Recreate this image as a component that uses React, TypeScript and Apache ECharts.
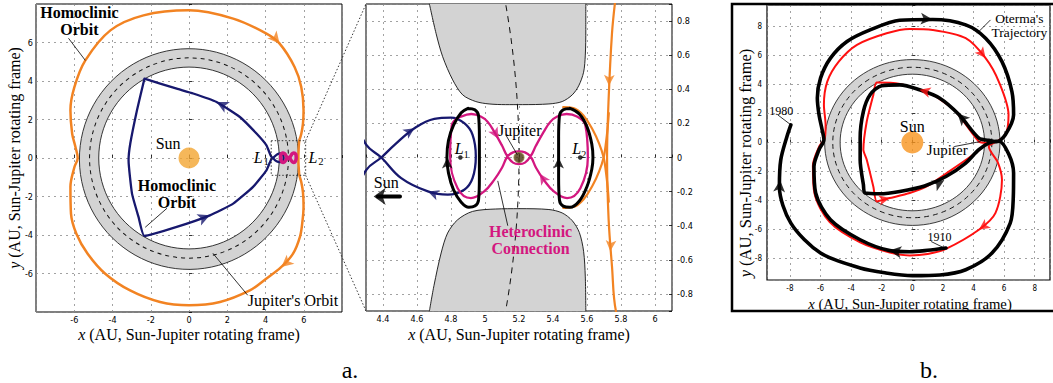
import React, { useEffect, useRef } from "react";
import * as echarts from "echarts";

// ---------------- axes ----------------
const p1Range = [-8, 8];
const p1Ticks = [-6, -4, -2, 0, 2, 4, 6];
const zoomX = [4.3, 6.1];
const zoomY = [-0.9, 0.9];
const p2XTicks = [4.4, 4.6, 4.8, 5, 5.2, 5.4, 5.6, 5.8, 6];
const p2YTicks = [-0.8, -0.6, -0.4, -0.2, 0, 0.2, 0.4, 0.6, 0.8];
const p3XRange = [-9.5, 9];
const p3YRange = [-9.5, 9.5];
const p3Ticks = [-8, -6, -4, -2, 0, 2, 4, 6, 8];

// ---------------- bodies ----------------
const sunPos = [[0, 0]];
const jupiterPos = [[5.2, 0]];
const lagrangePts = [[4.855, 0], [5.56, 0]];
const forbiddenRing = [[0, 0, 4.72, 5.73]]; // cx, cy, inner r, outer r
const jupiterOrbit = [[0, 0, 5.2]];

// ---------------- panel a curves ----------------
const orangeHomoclinic = [
  [5.766, 0.92], [5.747, 0.728], [5.727, 0.338], [5.718, 0], [5.727, -0.36], [5.747, -0.638], [5.77, -0.9],
  [5.87, -1.25], [5.96, -1.8], [5.99, -2.5], [5.93, -3.3], [5.8, -4.1], [5.44, -4.97], [4.83, -5.66], [4.0, -6.3],
  [3.18, -6.88], [1.62, -7.48], [0, -7.65], [-1.51, -7.48], [-3.08, -6.88], [-4.38, -6.01], [-5.3, -4.97],
  [-5.89, -3.93], [-6.17, -2.89], [-6.2, -1.5], [-5.99, -0.47], [-5.82, 0], [-5.94, 0.58], [-6.11, 1.27],
  [-6.2, 2.48], [-5.99, 3.69], [-5.42, 5.07], [-4.11, 6.63], [-2.38, 7.41], [0, 7.67], [2.31, 7.24],
  [4.05, 6.46], [4.74, 5.94], [5.52, 4.73], [5.87, 3.69], [5.99, 2.48], [5.96, 1.8], [5.87, 1.25], [5.766, 0.92],
];
const orangeL2Upper = [
  [5.46, 0.295], [5.52, 0.29], [5.58, 0.245], [5.635, 0.16], [5.672, 0.08], [5.698, 0], [5.712, -0.09], [5.722, -0.18], [5.728, -0.26],
];
const orangeL2Lower = [
  [5.728, 0.26], [5.722, 0.18], [5.712, 0.09], [5.698, 0], [5.672, -0.08], [5.635, -0.16], [5.58, -0.245], [5.52, -0.29], [5.46, -0.295],
];
const navyHomoclinic = [
  [-2.33, 4.12], [-2.72, 2.48], [-3.07, 0.75], [-3.16, -0.12], [-2.98, -1.85], [-2.64, -3.06], [-2.33, -4.05],
  [-0.64, -3.58], [1.09, -2.98], [2.31, -2.37], [3.35, -1.5], [4.05, -0.64], [4.22, -0.25], [4.302, -0.072],
  [4.39, 0.0], [4.468, 0.074], [4.585, 0.172], [4.702, 0.227], [4.8, 0.234], [4.878, 0.201], [4.927, 0.133],
  [4.946, 0.006], [4.927, -0.121], [4.878, -0.189], [4.781, -0.218], [4.664, -0.199], [4.507, -0.121],
  [4.39, 0.0], [4.302, 0.074], [4.22, 0.25], [4.05, 0.66], [3.53, 1.27], [2.66, 2.13], [1.44, 2.91],
  [0.22, 3.35], [-0.64, 3.6], [-2.33, 4.12],
];
const magentaHeteroclinic = [
  [4.859, 0.24], [4.92, 0.255], [4.975, 0.24], [5.015, 0.21], [5.054, 0.152], [5.1, 0.07], [5.132, 0.006],
  [5.165, -0.03], [5.2, -0.038], [5.235, -0.03], [5.268, 0.006], [5.3, 0.07], [5.346, 0.152], [5.385, 0.21],
  [5.425, 0.24], [5.48, 0.255], [5.541, 0.24], [5.59, 0.191], [5.605, 0.0], [5.561, -0.18], [5.483, -0.238],
  [5.405, -0.199], [5.346, -0.131], [5.3, -0.06], [5.268, 0.006], [5.235, 0.03], [5.2, 0.036], [5.165, 0.03],
  [5.132, 0.006], [5.1, -0.06], [5.054, -0.131], [4.995, -0.199], [4.917, -0.238], [4.839, -0.18],
  [4.795, 0.006], [4.805, 0.191], [4.859, 0.24],
];
const lyapunovL1 = [
  [4.9, 0.288], [4.94, 0.28], [4.962, 0.245], [4.967, 0.12], [4.967, -0.12], [4.962, -0.25], [4.94, -0.285],
  [4.905, -0.292], [4.86, -0.262], [4.815, -0.19], [4.785, -0.09], [4.776, 0.0], [4.785, 0.1], [4.815, 0.19],
  [4.86, 0.262], [4.9, 0.288],
];
const lyapunovL2 = [
  [5.5, 0.288], [5.46, 0.28], [5.438, 0.245], [5.433, 0.12], [5.433, -0.12], [5.438, -0.25], [5.46, -0.285],
  [5.5, -0.292], [5.555, -0.255], [5.6, -0.17], [5.628, -0.07], [5.635, 0.0], [5.628, 0.08], [5.6, 0.18],
  [5.555, 0.255], [5.5, 0.288],
];
const forbiddenTop = [
  [4.673, 0.9], [4.712, 0.728], [4.751, 0.591], [4.81, 0.455], [4.869, 0.367], [4.946, 0.328], [5.024, 0.314],
  [5.12, 0.31], [5.22, 0.31], [5.376, 0.314], [5.454, 0.328], [5.513, 0.367], [5.551, 0.42], [5.58, 0.5],
  [5.59, 0.6], [5.593, 0.75], [5.593, 0.9],
];
const forbiddenBottom = [
  [4.673, -0.9], [4.7, -0.75], [4.742, -0.56], [4.78, -0.443], [4.839, -0.365], [4.927, -0.316], [5.063, -0.302],
  [5.2, -0.3], [5.376, -0.305], [5.454, -0.325], [5.513, -0.37], [5.555, -0.44], [5.58, -0.55], [5.59, -0.7],
  [5.593, -0.9],
];
const sunDirection = [[4.5, -0.228], [4.37, -0.228]];

// ---------------- panel b curves ----------------
const redChainOuter = [
  [5.21, -0.1], [5.0, -0.28], [5.6, -1.4], [5.86, -2.58], [5.43, -4.88], [4.35, -6.03], [2.2, -7.35], [1.0, -7.7],
  [-0.17, -7.8], [-1.47, -7.6], [-3.41, -6.9], [-5.4, -5.5], [-6.4, -3.5], [-6.5, -1.6], [-6.1, -0.3],
  [-5.72, 0.3], [-5.67, 1.22], [-5.78, 2.6], [-5.56, 4.21], [-4.81, 5.59], [-3.62, 6.75], [-1.68, 7.55],
  [-0.17, 7.85], [1.33, 7.78], [3.49, 7.21], [4.79, 5.83], [5.65, 4.21], [6.29, 1.91], [6.08, 0.53], [5.21, -0.1],
];
const redChainInner = [
  [4.89, -0.04], [4.35, 0.07], [2.85, 2.14], [1.5, 3.2], [0.47, 3.64], [-0.8, 4.05], [-2.33, 4.14],
  [-2.55, 3.29], [-2.98, 1.45], [-3.2, -0.5], [-2.98, -1.19], [-2.55, -3.04], [-2.33, -4.07], [-1.47, -3.84],
  [-0.17, -3.49], [1.0, -3.0], [2.41, -2.0], [4.14, -0.73], [4.89, -0.04],
];
const otermaTrajectory = [
  [2.2, -7.29], [1.0, -7.45], [-0.17, -7.55], [-1.47, -7.47], [-3.41, -6.72], [-5.35, -5.34], [-6.32, -3.49],
  [-6.43, -1.66], [-6.1, -0.5], [-5.78, 0.19], [-5.9, 0.9], [-6.1, 1.91], [-6.21, 3.07], [-6.0, 4.45],
  [-5.35, 5.83], [-4.27, 6.98], [-2.76, 7.78], [-0.83, 8.45], [1.33, 8.5], [3.49, 8.13], [4.79, 7.21],
  [5.86, 5.59], [6.51, 3.52], [6.62, 1.91], [6.08, 0.53], [5.5, 0.05], [5.0, 0.15], [4.35, 0.3], [3.06, 1.91],
  [1.77, 3.07], [0.47, 3.64], [-0.82, 3.98], [-2.0, 3.92], [-2.76, 3.3], [-3.2, 2.14], [-3.41, 0.3],
  [-3.41, -1.19], [-3.2, -2.9], [-3.09, -3.49], [-2.12, -3.54], [-0.82, -3.38], [0.8, -3.0], [2.2, -2.35],
  [3.49, -1.42], [4.35, -0.5], [5.0, -0.05], [5.65, 0.1], [6.3, -0.8], [6.62, -2.11], [6.6, -3.8], [6.4, -5.57],
  [5.21, -7.64], [3.49, -8.79], [1.8, -9.15], [0.0, -9.2], [-1.8, -9.0], [-3.41, -8.67], [-6.0, -7.64],
  [-7.94, -5.57], [-8.69, -3.04], [-8.6, -1.2], [-8.2, 0.4], [-7.94, 1.22],
];

// arrow heads: [x, y, heading in degrees]
const p1OrangeArrows = [[4.74, 5.94, -50], [4.83, -5.66, -140]];
const p1NavyArrows = [[1.44, 2.91, 153], [1.09, -2.98, 22]];
const p2NavyArrows = [[4.585, 0.172, 33], [4.664, -0.199, 160]];
const p2MagentaArrows = [[5.078, 0.11, -61], [5.322, -0.095, 123]];
const p2BlackArrows = [[4.778, 0.0, 90], [5.433, 0.0, 90]];
const p2OrangeArrows = [[5.729, 0.42, -92], [5.737, -0.55, -94]];
const p2SunArrow = [[4.345, -0.228, 180]];
const p3BlackArrows = [[1.33, 8.5, -4], [2.95, 2.0, 135], [2.09, -2.6, 29], [-1.5, -7.47, 172], [-8.64, -2.6, 85]];
const p3RedArrows = [[4.79, 5.83, -52], [4.35, -6.03, -145], [0.47, 3.64, 165], [-1.47, -3.84, 12]];

const serif = "'Liberation Serif', 'Times New Roman', serif";
const tickFont = "'Liberation Sans Narrow', 'DejaVu Sans Condensed', 'Liberation Sans', sans-serif";

const ORANGE = "#F28322";
const NAVY = "#17186E";
const MAGENTA = "#D3177F";
const RED = "#FF1010";

function fmtTicks(ticks: number[]) {
  return (v: number) => (ticks.some((t) => Math.abs(t - v) < 1e-6) ? String(Math.round(v * 10) / 10) : "");
}

function axis(gridIndex: number, range: number[], split: number, ticks: number[], fontSize: number, margin: number, extra: any = {}) {
  return {
    type: "value",
    gridIndex,
    min: range[0],
    max: range[1],
    splitNumber: split,
    axisLine: { show: false },
    axisTick: { show: true, inside: true, length: 3, lineStyle: { color: "#000", width: 0.8 } },
    axisLabel: { fontSize, fontFamily: tickFont, color: "#000", margin, formatter: fmtTicks(ticks), hideOverlap: false },
    splitLine: { show: true, lineStyle: { color: "#8a8a8a", width: 0.8, type: [2, 4] } },
    ...extra,
  };
}

function lineS(g: number, data: number[][], color: string, width: number, smooth: number, z = 3, extra: any = {}) {
  return {
    type: "line", xAxisIndex: g, yAxisIndex: g, data, showSymbol: false, symbol: "none", smooth, silent: true,
    clip: true, z, lineStyle: { color, width, cap: "round", join: "round" }, ...extra,
  };
}

function arrowS(g: number, arr: number[][], color: string, size: number[]) {
  return {
    type: "scatter", xAxisIndex: g, yAxisIndex: g, silent: true, z: 8, symbol: "arrow", symbolSize: size,
    itemStyle: { color }, clip: true,
    data: arr.map((a) => ({ value: [a[0], a[1]], symbolRotate: a[2] - 90 })),
  };
}

function ringS(g: number) {
  return {
    type: "custom", xAxisIndex: g, yAxisIndex: g, silent: true, z: 1, clip: true, data: forbiddenRing,
    renderItem: (params: any, api: any) => {
      const c = api.coord([api.value(0), api.value(1)]);
      const so = api.size([api.value(3), api.value(3)]);
      const si = api.size([api.value(2), api.value(2)]);
      const k = so[1] / so[0];
      return {
        type: "group",
        children: [
          { type: "ring", x: c[0], y: c[1], scaleY: k, shape: { cx: 0, cy: 0, r: so[0], r0: si[0] }, style: { fill: "#d3d3d3", stroke: "none" } },
          { type: "circle", x: c[0], y: c[1], scaleY: k, shape: { cx: 0, cy: 0, r: so[0] }, style: { fill: "none", stroke: "#222", lineWidth: 0.9 } },
          { type: "circle", x: c[0], y: c[1], scaleY: k, shape: { cx: 0, cy: 0, r: si[0] }, style: { fill: "none", stroke: "#222", lineWidth: 0.9 } },
        ],
      };
    },
  };
}

function orbitS(g: number, dash: number[]) {
  return {
    type: "custom", xAxisIndex: g, yAxisIndex: g, silent: true, z: 2, clip: true, data: jupiterOrbit,
    renderItem: (params: any, api: any) => {
      const c = api.coord([api.value(0), api.value(1)]);
      const s = api.size([api.value(2), api.value(2)]);
      return {
        type: "circle", x: c[0], y: c[1], scaleY: s[1] / s[0], shape: { cx: 0, cy: 0, r: s[0] },
        style: { fill: "none", stroke: "#111", lineWidth: 1, lineDash: dash },
      };
    },
  };
}

function buildOption() {
  return {
    animation: false,
    tooltip: { show: false },
    grid: [
      { left: 36, top: 4, width: 306, height: 308, show: true, borderColor: "#000", borderWidth: 1 },
      { left: 366, top: 4, width: 306, height: 307, show: true, borderColor: "#000", borderWidth: 1 },
      { left: 767, top: 5, width: 286, height: 275, show: true, borderColor: "#000", borderWidth: 1.2 },
    ],
    xAxis: [
      axis(0, p1Range, 8, p1Ticks, 9, 3),
      axis(1, zoomX, 9, p2XTicks, 9, 3),
      axis(2, p3XRange, 9, p3Ticks, 8, 4),
    ],
    yAxis: [
      axis(0, p1Range, 8, p1Ticks, 9, 3),
      axis(1, zoomY, 9, p2YTicks, 9, 5, { position: "right" }),
      axis(2, p3YRange, 9, p3Ticks, 8, 5),
    ],
    series: [
      // ---- panel a, full view ----
      ringS(0),
      orbitS(0, [4, 4]),
      lineS(0, orangeHomoclinic, ORANGE, 2.5, 0.35),
      lineS(0, navyHomoclinic, NAVY, 2.3, 0.15, 4),
      lineS(0, magentaHeteroclinic, MAGENTA, 3.5, 0.4, 5),
      lineS(0, [[zoomX[0], zoomY[1]], [zoomX[1], zoomY[1]], [zoomX[1], zoomY[0]], [zoomX[0], zoomY[0]], [zoomX[0], zoomY[1]]], "#222", 0.9, 0, 6, { lineStyle: { color: "#222", width: 0.9, type: [1.5, 2] } }),
      { type: "scatter", xAxisIndex: 0, yAxisIndex: 0, data: sunPos, symbolSize: 21, silent: true, z: 5, itemStyle: { color: "#F2A531" } },
      arrowS(0, p1OrangeArrows, ORANGE, [9, 12]),
      arrowS(0, p1NavyArrows, NAVY, [9, 12]),

      // ---- panel a, zoom on Jupiter ----
      lineS(1, forbiddenTop, "#111", 0.9, 0.3, 1, { areaStyle: { color: "#d3d3d3", opacity: 1, origin: "end" } }),
      lineS(1, forbiddenBottom, "#111", 0.9, 0.3, 1, { areaStyle: { color: "#d3d3d3", opacity: 1, origin: "start" } }),
      orbitS(1, [6, 5]),
      lineS(1, orangeHomoclinic, ORANGE, 2.2, 0.35, 3),
      lineS(1, orangeL2Upper, ORANGE, 2.2, 0.4, 3),
      lineS(1, orangeL2Lower, ORANGE, 2.2, 0.4, 3),
      lineS(1, navyHomoclinic, NAVY, 2.3, 0.4, 4),
      lineS(1, magentaHeteroclinic, MAGENTA, 2.3, 0.4, 5),
      lineS(1, lyapunovL1, "#000", 3, 0.4, 6),
      lineS(1, lyapunovL2, "#000", 3, 0.4, 6),
      lineS(1, sunDirection, "#000", 4, 0, 6),
      arrowS(1, p2SunArrow, "#000", [13, 12]),
      { type: "scatter", xAxisIndex: 1, yAxisIndex: 1, data: lagrangePts, symbolSize: 4.5, silent: true, z: 9, itemStyle: { color: "#000" } },
      { type: "scatter", xAxisIndex: 1, yAxisIndex: 1, data: jupiterPos, symbolSize: 10, silent: true, z: 9, itemStyle: { color: "#4a3510", borderColor: "#8c7b3c", borderWidth: 1.2 } },
      arrowS(1, p2NavyArrows, NAVY, [8, 11]),
      arrowS(1, p2MagentaArrows, MAGENTA, [8, 11]),
      arrowS(1, p2BlackArrows, "#000", [8, 11]),
      arrowS(1, p2OrangeArrows, ORANGE, [8, 11]),

      // ---- panel b ----
      ringS(2),
      orbitS(2, [5, 4]),
      { type: "scatter", xAxisIndex: 2, yAxisIndex: 2, data: sunPos, symbolSize: 22, silent: true, z: 5, itemStyle: { color: "#F7941D" } },
      lineS(2, redChainOuter, RED, 2, 0.3, 3),
      lineS(2, redChainInner, RED, 2, 0.2, 3),
      lineS(2, otermaTrajectory, "#000", 3.6, 0.3, 4),
      arrowS(2, p3RedArrows, RED, [8, 11]),
      arrowS(2, p3BlackArrows, "#000", [9, 12]),
    ],
  };
}

function buildGraphics(chart: any) {
  const P = (g: number, x: number, y: number) => chart.convertToPixel({ gridIndex: g }, [x, y]);
  const els: any[] = [];
  const text = (px: number, py: number, t: string, o: any = {}) => {
    const size = o.size || 16;
    els.push({
      type: "text", x: px, y: py, silent: true, z: 100, rotation: o.rot || 0,
      style: {
        text: t, fill: o.color || "#000", fontFamily: serif, fontSize: size,
        fontWeight: o.bold ? "bold" : "normal", fontStyle: o.italic ? "italic" : "normal",
        textAlign: o.align || "center", align: o.align || "center",
        textVerticalAlign: "middle", verticalAlign: "middle",
        lineHeight: o.lh || Math.round(size * 1.1), rich: o.rich,
      },
    });
  };
  const tD = (g: number, x: number, y: number, t: string, o: any = {}) => {
    const p = P(g, x, y);
    text(p[0], p[1], t, o);
  };
  const leader = (g: number, a: number[], b: number[], w = 0.8) => {
    const p = P(g, a[0], a[1]);
    const q = P(g, b[0], b[1]);
    els.push({ type: "line", silent: true, z: 100, shape: { x1: p[0], y1: p[1], x2: q[0], y2: q[1] }, style: { stroke: "#000", lineWidth: w } });
  };
  const lagLabel = (g: number, x: number, y: number, sub: string, sx: number, sy: number) => {
    tD(g, x, y, "L", { italic: true, size: 16 });
    const p = P(g, x, y);
    text(p[0] + sx, p[1] + sy, sub, { size: 10 });
  };

  // panel a, full view
  tD(0, -5.73, 7.1, "Homoclinic\nOrbit", { bold: true, size: 16, lh: 17 });
  leader(0, [-6.3, 6.22], [-5.42, 5.07]);
  tD(0, -0.63, -1.89, "Homoclinic\nOrbit", { bold: true, size: 16, lh: 17 });
  leader(0, [-1.15, -2.61], [-2.29, -3.6]);
  tD(0, -1.09, 0.76, "Sun", { size: 16 });
  tD(0, 5.44, -7.42, "Jupiter's Orbit", { size: 16 });
  leader(0, [1.25, -4.95], [3.07, -7.13]);
  lagLabel(0, 3.62, 0.05, "1", 8, 4);
  lagLabel(0, 6.48, 0.05, "2", 8, 4);

  // connectors from the zoom box to the zoom panel
  const a1 = P(0, zoomX[1], zoomY[1]);
  const b1 = P(1, zoomX[0], zoomY[1]);
  const a2 = P(0, zoomX[1], zoomY[0]);
  const b2 = P(1, zoomX[0], zoomY[0]);
  els.push({ type: "line", silent: true, z: 100, shape: { x1: a1[0], y1: a1[1], x2: b1[0], y2: b1[1] }, style: { stroke: "#222", lineWidth: 0.9, lineDash: [1.5, 2] } });
  els.push({ type: "line", silent: true, z: 100, shape: { x1: a2[0], y1: a2[1], x2: b2[0], y2: b2[1] }, style: { stroke: "#222", lineWidth: 0.9, lineDash: [1.5, 2] } });

  // panel a, zoom
  tD(1, 5.204, 0.156, "Jupiter", { size: 16 });
  leader(1, [5.122, 0.133], [5.19, 0.016]);
  lagLabel(1, 4.848, 0.05, "1", 7, 6);
  lagLabel(1, 5.54, 0.05, "2", 7, 6);
  tD(1, 4.419, -0.145, "Sun", { size: 16 });
  tD(1, 5.268, -0.482, "Heteroclinic\nConnection", { bold: true, size: 16, lh: 17, color: MAGENTA });
  leader(1, [5.075, -0.137], [5.134, -0.4]);

  // panel b
  tD(2, 0, 1.08, "Sun", { size: 16 });
  tD(2, 2.28, -0.5, "Jupiter", { size: 15 });
  leader(2, [2.74, -0.28], [4.46, 0.07]);
  tD(2, 7.0, 8.55, "Oterma's", { size: 13.5 });
  tD(2, 7.0, 7.6, "Trajectory", { size: 13.5 });
  leader(2, [5.11, 8.47], [4.24, 7.55]);
  tD(2, -8.57, 2.19, "1980", { size: 12 });
  leader(2, [-8.8, 1.91], [-7.94, 1.22]);
  tD(2, 1.77, -6.55, "1910", { size: 12 });
  leader(2, [1.23, -6.84], [2.09, -7.29]);

  // axis titles
  const title = (letter: string, size: number) => ({ t: `{i|${letter}} (AU, Sun-Jupiter rotating frame)`, rich: { i: { fontStyle: "italic", fontFamily: serif, fontSize: size, fill: "#000" } } });
  const g1c = P(0, 0, 0);
  const g2c = P(1, 5.2, 0);
  let tt = title("x", 16);
  text(g1c[0], 334, tt.t, { size: 16, rich: tt.rich });
  text(g2c[0], 334, tt.t, { size: 16, rich: tt.rich });
  tt = title("y", 16);
  text(14, g1c[1], tt.t, { size: 16, rich: tt.rich, rot: Math.PI / 2 });
  tt = title("x", 14.7);
  text(910, 303.5, tt.t, { size: 14.7, rich: tt.rich });
  tt = title("y", 16.5);
  text(745, 163, tt.t, { size: 16.5, rich: tt.rich, rot: Math.PI / 2 });

  // panel b frame
  els.push({ type: "rect", silent: true, z: 100, shape: { x: 732, y: 4, width: 330, height: 307 }, style: { fill: "none", stroke: "#000", lineWidth: 2.5 } });

  // captions
  text(350, 370, "a.", { size: 24 });
  text(929, 370, "b.", { size: 24 });
  return els;
}

export default function App() {
  const ref = useRef<HTMLDivElement>(null);
  useEffect(() => {
    if (!ref.current) return;
    const chart = echarts.init(ref.current, undefined, { renderer: "svg" });
    chart.setOption(buildOption() as any);
    chart.setOption({ graphic: { elements: buildGraphics(chart) } } as any);
    return () => chart.dispose();
  }, []);
  return (
    <div
      ref={ref}
      style={{ position: "absolute", left: 0, top: 0, width: 1053, height: 383, background: "#fff" }}
    />
  );
}
